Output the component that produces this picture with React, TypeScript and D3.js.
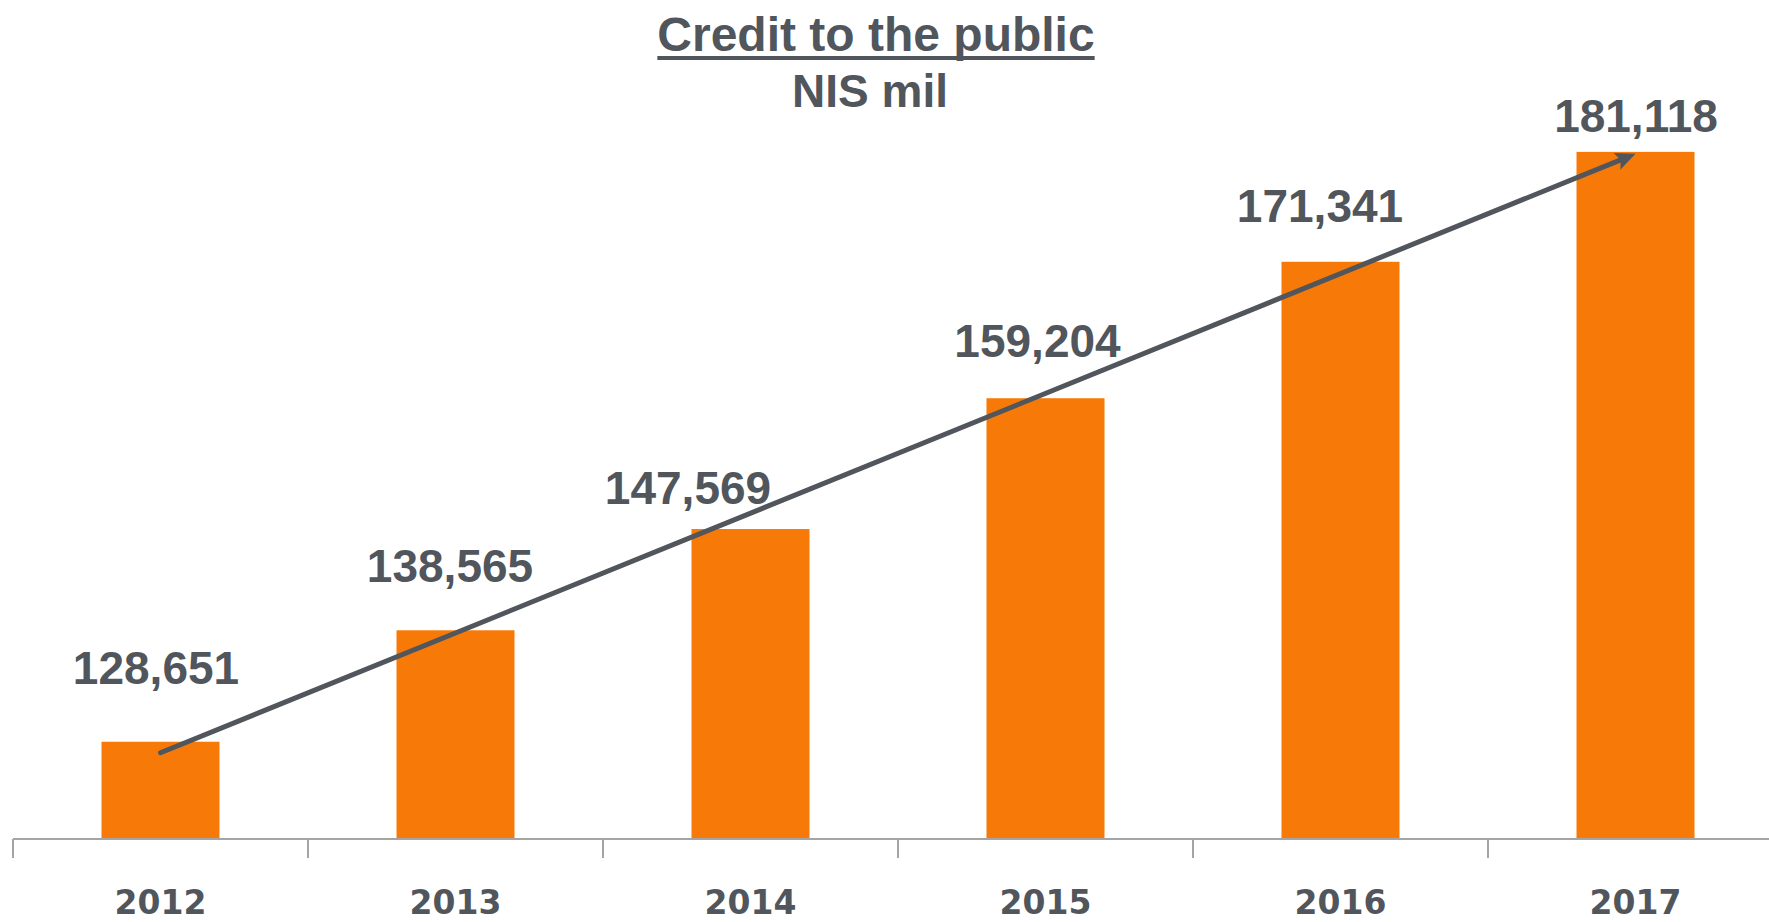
import React, { useLayoutEffect, useRef, useState } from "react";
import * as d3 from "d3";

const years: string[] = ["2012", "2013", "2014", "2015", "2016", "2017"];
const credit: number[] = [128651, 138565, 147569, 159204, 171341, 181118];
const yDomain: [number, number] = [120000, 190000];
const titleText = "Credit to the public";
const subtitleText = "NIS mil";

// label nudges (layout), relative to bar centre / bar top
const labelDx: number[] = [-4.5, -5.5, -62.5, -8, -20.5, 0.5];
const labelDy: number[] = [-58, -48, -25, -41, -40, -20];

const W = 1769;
const H = 922;
const ORANGE = "#F77A08";
const GREY = "#50565C";
const AXIS = "#A5A5A5";
const LABEL_FONT = "'Liberation Sans', Arial, sans-serif";

export default function App() {
  const x = d3.scaleBand<string>().domain(years).range([13, 1783]).paddingInner(0.6).paddingOuter(0.3);
  const y = d3.scaleLinear().domain(yDomain).range([839, 52]);
  const step = x.step();
  const bw = x.bandwidth();
  const cx = (yr: string) => (x(yr) as number) + bw / 2;

  const titleRef = useRef<SVGTextElement>(null);
  const [ul, setUl] = useState<{ x: number; w: number } | null>(null);
  useLayoutEffect(() => {
    if (titleRef.current) {
      const b = titleRef.current.getBBox();
      setUl({ x: b.x, w: b.width });
    }
  }, []);

  // trend arrow
  const x0 = cx(years[0]);
  const y0 = y(credit[0]) + 11;
  const x1 = cx(years[years.length - 1]);
  const y1 = y(credit[credit.length - 1]) + 2;
  const ang = Math.atan2(y1 - y0, x1 - x0);
  const headLen = 20;
  const headW = 9;
  const bx = x1 - headLen * Math.cos(ang);
  const by = y1 - headLen * Math.sin(ang);
  const nx = -Math.sin(ang);
  const ny = Math.cos(ang);
  const head = [
    [x1, y1],
    [bx + nx * headW, by + ny * headW],
    [bx + 4 * Math.cos(ang), by + 4 * Math.sin(ang)],
    [bx - nx * headW, by - ny * headW],
  ];
  const fmt = d3.format(",");

  return (
    <svg
      width={W}
      height={H}
      style={{ position: "absolute", left: 0, top: 0, background: "#fff" }}
    >
      {/* title */}
      <text
        ref={titleRef}
        x={876}
        y={51}
        textAnchor="middle"
        fontFamily={LABEL_FONT}
        fontWeight="bold"
        fontSize={48}
        fill={GREY}
      >
        {titleText}
      </text>
      {ul && <rect x={ul.x} y={56} width={ul.w} height={4} fill={GREY} />}
      <text
        x={870}
        y={107}
        textAnchor="middle"
        fontFamily={LABEL_FONT}
        fontWeight="bold"
        fontSize={46}
        fill={GREY}
      >
        {subtitleText}
      </text>

      {/* bars */}
      {years.map((yr, i) => (
        <rect
          key={yr}
          x={x(yr)}
          y={y(credit[i])}
          width={bw}
          height={y(yDomain[0]) - y(credit[i])}
          fill={ORANGE}
        />
      ))}

      {/* axis */}
      <line x1={13} x2={W} y1={y(yDomain[0])} y2={y(yDomain[0])} stroke={AXIS} strokeWidth={2} />
      {d3.range(years.length + 1).map((i) => {
        const tx = (x(years[0]) as number) - step * 0.3 + i * step;
        return (
          <line
            key={i}
            x1={tx}
            x2={tx}
            y1={y(yDomain[0])}
            y2={y(yDomain[0]) + 19}
            stroke={AXIS}
            strokeWidth={2}
          />
        );
      })}
      {years.map((yr) => (
        <text
          key={yr}
          x={cx(yr)}
          y={914}
          textAnchor="middle"
          fontFamily="'DejaVu Sans', Verdana, sans-serif"
          fontWeight="bold"
          fontSize={33}
          fill={GREY}
        >
          {yr}
        </text>
      ))}

      {/* value labels */}
      {years.map((yr, i) => (
        <text
          key={yr}
          x={cx(yr) + labelDx[i]}
          y={y(credit[i]) + labelDy[i]}
          textAnchor="middle"
          fontFamily={LABEL_FONT}
          fontWeight="bold"
          fontSize={46}
          fill={GREY}
        >
          {fmt(credit[i])}
        </text>
      ))}

      {/* trend arrow */}
      <line
        x1={x0}
        y1={y0}
        x2={bx + 4 * Math.cos(ang)}
        y2={by + 4 * Math.sin(ang)}
        stroke={GREY}
        strokeWidth={5}
        strokeLinecap="round"
      />
      <polygon points={head.map((p) => p.join(",")).join(" ")} fill={GREY} />
    </svg>
  );
}
